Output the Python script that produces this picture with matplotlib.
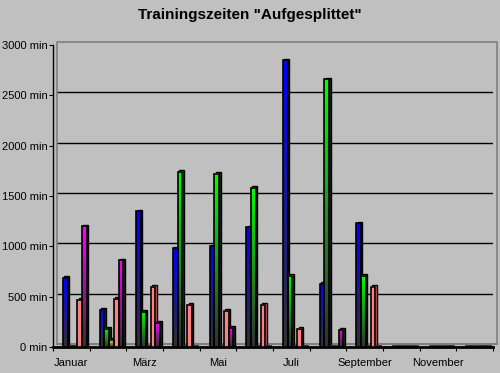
import numpy as np
import matplotlib
matplotlib.use("Agg")
import matplotlib.pyplot as plt
from matplotlib.colors import LinearSegmentedColormap
from matplotlib.transforms import offset_copy

plt.rcParams["font.family"] = ["Liberation Sans", "DejaVu Sans"]

# --- Daten (Minuten pro Monat) ---
months = ["Januar", "Februar", "März", "April", "Mai", "Juni", "Juli",
          "August", "September", "Oktober", "November", "Dezember"]
blue = [690, 370, 1350, 980, 1000, 1190, 2850, 630, 1230, 0, 0, 0]
green = [0, 180, 350, 1740, 1720, 1580, 710, 2660, 710, 0, 0, 0]
yellow = [0, 70, 0, 0, 0, 0, 0, 0, 0, 0, 0, 0]
salmon = [470, 480, 600, 420, 360, 420, 180, 0, 600, 0, 0, 0]
magenta = [1200, 860, 240, 0, 190, 0, 0, 170, 0, 0, 0, 0]
yticks = [0, 500, 1000, 1500, 2000, 2500, 3000]

series = [blue, green, yellow, salmon, magenta]
colors = ["#0000FF", "#00FF00", "#FFFF00", "#FF8080", "#FF00FF"]
side_colors = ["#202020", "#202020", "#202020", "#C06060", "#202020"]
gradient = [True, True, True, False, True]

BG = "#C0C0C0"
fig = plt.figure(figsize=(5, 3.73), dpi=100, facecolor=BG)
ax = fig.add_axes([53 / 500, 26 / 373, 440 / 500, 302 / 373], facecolor=BG)
ax.set_xlim(-0.5, 11.5)
ax.set_ylim(0, 3000)

# Rueckwand (leicht nach hinten versetzt)
back = offset_copy(ax.transData, fig=fig, x=4, y=3, units="dots")
for v in yticks[1:-1]:
    ax.plot([-0.5, 11.5], [v, v], color="black", lw=1, transform=back, zorder=1)
ax.plot([-0.5, -0.5, 11.5, 11.5], [0, 3000, 3000, 0], color="#808080", lw=1.2,
        transform=back, zorder=1, clip_on=False)
ax.plot([-0.5, 11.5], [0, 0], color="#808080", lw=1.5, transform=back, zorder=1,
        clip_on=False)

w = 0.13
side = offset_copy(ax.transData, fig=fig, x=1.5, y=1.5, units="dots")
grad = np.linspace(0, 1, 64).reshape(-1, 1)
for k, (vals, col, sc, g) in enumerate(zip(series, colors, side_colors, gradient)):
    if g:
        cmap = LinearSegmentedColormap.from_list(f"c{k}", ["#303030", col])
    else:
        cmap = LinearSegmentedColormap.from_list(f"c{k}", [col, col])
    for i, h in enumerate(vals):
        x0 = i - 0.5 + 0.27 + k * w
        if h <= 0:
            ax.plot([x0, x0 + w], [8, 8], color="#303030", lw=2, zorder=2)
            continue
        ax.bar(x0, h, w, align="edge", color=sc, edgecolor="black",
               lw=1, transform=side, zorder=2)
        ax.imshow(grad, extent=[x0, x0 + w, 0, h], aspect="auto", cmap=cmap,
                  origin="lower", zorder=3, interpolation="bilinear")
        ax.bar(x0, h, w, align="edge", fill=False, edgecolor="black", lw=1.2,
               zorder=4)

ax.set_xlim(-0.5, 11.5)
ax.set_ylim(0, 3000)
ax.set_aspect("auto")

for s in ["top", "right"]:
    ax.spines[s].set_visible(False)
ax.spines["left"].set_color("black")
ax.spines["bottom"].set_color("black")
ax.spines["bottom"].set_linewidth(2)
ax.spines["left"].set_linewidth(1)

ax.set_yticks(yticks)
ax.set_yticklabels([f"{v} min" for v in yticks], fontsize=8)
ax.set_xticks(np.arange(-0.5, 12, 1))
ax.set_xticklabels([])
ax.set_xticks(np.arange(12), minor=True)
ax.set_xticklabels([m if i % 2 == 0 else "" for i, m in enumerate(months)],
                   minor=True, fontsize=8)
ax.tick_params(axis="both", which="major", direction="out", length=3, color="black")
ax.tick_params(axis="y", which="major", pad=1)
ax.tick_params(axis="x", which="minor", length=0, pad=8)

fig.text(0.5, 0.96, "Trainingszeiten \"Aufgesplittet\"", ha="center", va="center",
         fontsize=11, fontweight="bold")

fig.savefig("out.png", dpi=100, facecolor=BG)
